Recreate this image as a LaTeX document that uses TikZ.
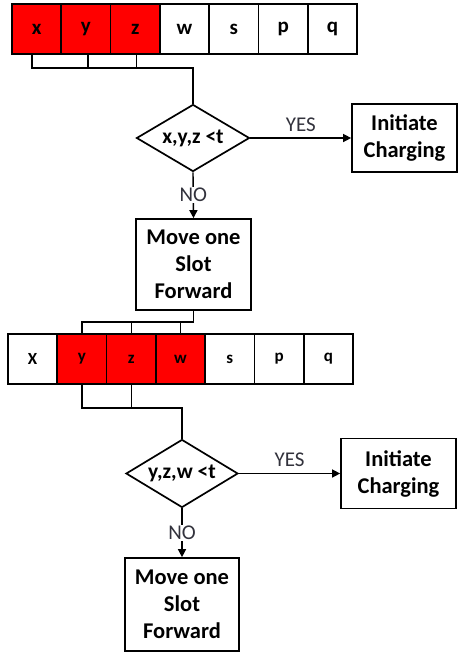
\documentclass[tikz,border=0pt]{standalone}
\usepackage{fontspec}
\setmainfont{Carlito}
\usetikzlibrary{shapes.geometric,arrows.meta}
\definecolor{cellred}{RGB}{255,0,0}
\definecolor{labelgray}{RGB}{50,50,60}
\tikzset{
  cell/.style={draw, line width=1.7pt, minimum width=49.3pt, minimum height=50pt, inner sep=0pt, font=\bfseries\fontsize{21}{24}\selectfont},
  cellsmall/.style={cell, font=\bfseries\fontsize{17}{20}\selectfont},
  hot/.style={fill=cellred},
  procbox/.style={draw, line width=1.7pt, inner sep=0pt, align=center, font=\bfseries\fontsize{22.5}{27}\selectfont},
  decision/.style={draw, line width=1.7pt, diamond, inner sep=0pt, aspect=1.69, font=\bfseries\fontsize{21.5}{24}\selectfont},
  conn/.style={line width=1.4pt},
  arr/.style={conn, -{Triangle[length=8pt,width=8pt]}},
  lbl/.style={font=\fontsize{21}{24}\selectfont, text=labelgray, inner sep=1pt}
}
\begin{document}
\begin{tikzpicture}[x=1pt,y=-1pt]
\useasboundingbox (0,0) rectangle (459,653);
% top row
\foreach \n/\t/\s [count=\i from 0] in {x1/x/hot, y1/y/hot, z1/z/hot, w1/w/, s1/s/, p1/p/, q1/q/}{
  \node[cell,\s] (\n) at ({12+49.3*(\i+0.5)},29) {\t};
}
% decision 1
\node[decision, minimum width=113pt, minimum height=67pt] (d1) at (193,138) {x,y,z <t};
\node[procbox, minimum width=105pt, minimum height=68pt] (i1) at (404.5,138) {Initiate\\Charging};
\node[procbox, minimum width=115pt, minimum height=91pt] (m1) at (193.5,264.5) {Move one\\Slot\\Forward};
% second row
\foreach \n/\t/\s [count=\i from 0] in {x2/X/, y2/y/hot, z2/z/hot, w2/w/hot, s2/s/, p2/p/, q2/q/}{
  \node[cellsmall,\s] (\n) at ({8+49.3*(\i+0.5)},359) {\t};
}
\node[decision, minimum width=112pt, minimum height=68pt] (d2) at (182,473.5) {y,z,w <t};
\node[procbox, minimum width=115pt, minimum height=70pt] (i2) at (398.5,473.5) {Initiate\\Charging};
\node[procbox, minimum width=114pt, minimum height=93pt] (m2) at (182,604.5) {Move one\\Slot\\Forward};

% top bracket
\draw[conn] ([xshift=-4.6pt]x1.south) -- ++(0,13) coordinate (j1) -| (d1.north);
\draw[conn] ([xshift=2pt]y1.south) -- ([xshift=2pt]y1.south |- j1);
\draw[conn] ([xshift=1pt]z1.south) -- ([xshift=1pt]z1.south |- j1);
% decision 1 branches
\draw[arr] (d1.east) -- node[lbl, above=5pt] {YES} (i1.west);
\draw[arr] (d1.south) -- node[lbl, fill=white] {NO} (m1.north);
% middle bracket
\draw[conn] (m1.south) -- ++(0,11) coordinate (j2) -| (y2.north);
\draw[conn] (z2.north) -- (z2.north |- j2);
\draw[conn] (w2.north) -- (w2.north |- j2);
% bottom bracket
\draw[conn] (y2.south) -- ++(0,23) coordinate (j3) -| (d2.north);
\draw[conn] (z2.south) -- (z2.south |- j3);
% decision 2 branches
\draw[arr] (d2.east) -- node[lbl, above=5pt] {YES} (i2.west);
\draw[arr] (d2.south) -- node[lbl, fill=white] {NO} (m2.north);
\end{tikzpicture}
\end{document}
